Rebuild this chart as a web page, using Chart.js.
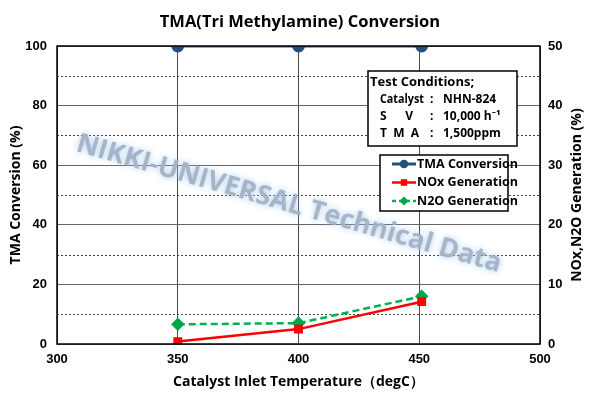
<!DOCTYPE html>
<html>
<head>
<meta charset="utf-8">
<script src="https://cdn.jsdelivr.net/npm/chart.js@4.4.0/dist/chart.umd.min.js"></script>
<style>
  html, body { margin: 0; padding: 0; background: #fff; }
  #wrap { width: 600px; height: 396px; position: relative; }
</style>
</head>
<body>
<div id="wrap"><canvas id="graf"></canvas></div>
<script>
// dados
const temperaturas = [350, 400, 451];
const tmaConversao = [100, 100, 100];
const noxGeracao = [0.4, 2.5, 7.1];
const n2oGeracao = [3.3, 3.5, 8.0];
const ticksX = [300, 350, 400, 450, 500];
const ticksEsq = [0, 20, 40, 60, 80, 100];
const ticksDir = [0, 10, 20, 30, 40, 50];

const titulo = 'TMA(Tri Methylamine) Conversion';
const condicoes = [
    ['Catalyst', ':', 'NHN-824'],
    ['S      V', ':', '10,000 h\u207B\u00B9'],
    ['T  M  A', ':', '1,500ppm']
];
const marcaDagua = 'NIKKI-UNIVERSAL Technical Data';

const FONTE = "'Open Sans', 'Noto Sans', sans-serif";
const FONTE_NUM = "'Liberation Sans', Arial, sans-serif";

function pares(xs, ys) {
    return xs.map((x, i) => ({ x: x, y: ys[i] }));
}

// desenha grade pontilhada, titulo, marca d'agua, caixas e titulo da direita
const extras = {
    id: 'extras',
    beforeDatasetsDraw(chart) {
        const c = chart.ctx;
        const a = chart.chartArea;
        const sy = chart.scales.yEsq;
        // linhas pontilhadas nos valores intermediarios
        c.save();
        c.strokeStyle = '#444';
        c.lineWidth = 1;
        c.setLineDash([2, 2]);
        sy.ticks.forEach(t => {
            if (ticksEsq.includes(t.value)) return;
            const y = Math.round(sy.getPixelForValue(t.value)) + 0.5;
            c.beginPath();
            c.moveTo(a.left, y);
            c.lineTo(a.right, y);
            c.stroke();
        });
        c.restore();

        // marca d'agua por cima da grade
        c.save();
        c.translate(289, 204);
        c.rotate(16 * Math.PI / 180);
        c.font = "bold 27px " + FONTE;
        c.textAlign = 'center';
        c.textBaseline = 'middle';
        c.shadowColor = 'rgba(150,195,240,0.95)';
        c.shadowBlur = 6;
        c.fillStyle = 'rgba(165,177,193,0.92)';
        c.fillText(marcaDagua, 0, 0);
        c.restore();
    },
    afterDraw(chart) {
        const c = chart.ctx;
        const a = chart.chartArea;
        c.save();
        // moldura
        c.strokeStyle = '#000';
        c.lineWidth = 1.5;
        c.strokeRect(a.left, a.top, a.right - a.left, a.bottom - a.top);

        // titulo
        c.fillStyle = '#000';
        c.font = "bold 16.5px " + FONTE;
        c.textAlign = 'center';
        c.textBaseline = 'middle';
        c.fillText(titulo, 300, 22);

        // titulo eixo direito (de baixo pra cima)
        c.save();
        c.translate(577, (a.top + a.bottom) / 2);
        c.rotate(-Math.PI / 2);
        c.font = "bold 14px " + FONTE;
        c.fillText('NOx,N2O Generation (%)', 0, 0);
        c.restore();

        // caixa de condicoes
        c.fillStyle = '#fff';
        c.fillRect(368, 71, 149, 75);
        c.strokeStyle = '#000';
        c.lineWidth = 1.5;
        c.strokeRect(368, 71, 149, 75);
        c.fillStyle = '#000';
        c.textAlign = 'left';
        c.font = "bold 13px " + FONTE;
        c.fillText('Test Conditions;', 370, 82);
        c.font = "bold 12px " + FONTE;
        condicoes.forEach((l, i) => {
            const y = 99.5 + i * 17;
            c.fillText(l[0], 380, y, 44);
            c.fillText(l[1], 430, y);
            c.fillText(l[2], 443, y);
        });

        // legenda
        c.fillStyle = '#fff';
        c.fillRect(380, 155, 128, 56);
        c.strokeRect(380, 155, 128, 56);
        chart.data.datasets.forEach((ds, i) => {
            const y = 164 + i * 18.5;
            c.save();
            c.strokeStyle = ds.borderColor;
            c.lineWidth = ds.borderWidth;
            c.setLineDash(ds.borderDash ? [4, 3] : []);
            c.beginPath();
            c.moveTo(392, y);
            c.lineTo(416, y);
            c.stroke();
            c.restore();
            c.fillStyle = ds.pointBackgroundColor;
            c.strokeStyle = ds.pointBackgroundColor;
            Chart.helpers.drawPoint(c, {
                pointStyle: ds.pointStyle,
                radius: 3.5,
                borderWidth: 1
            }, 404, y);
            c.fillStyle = '#000';
            c.font = "bold 12.5px " + FONTE;
            c.fillText(ds.label, 417, y);
        });
        c.restore();
    }
};

new Chart(document.getElementById('graf'), {
    type: 'line',
    data: {
        datasets: [{
            label: 'TMA Conversion',
            data: pares(temperaturas, tmaConversao),
            yAxisID: 'yEsq',
            borderColor: '#24507e',
            backgroundColor: '#24507e',
            pointBackgroundColor: '#24507e',
            pointBorderColor: '#24507e',
            borderWidth: 3,
            pointStyle: 'circle',
            pointRadius: 5,
            tension: 0
        }, {
            label: 'NOx Generation',
            data: pares(temperaturas, noxGeracao),
            yAxisID: 'yDir',
            borderColor: '#ff0000',
            backgroundColor: '#ff0000',
            pointBackgroundColor: '#ff0000',
            pointBorderColor: '#ff0000',
            borderWidth: 2.5,
            pointStyle: 'rect',
            pointRadius: 4.5,
            tension: 0
        }, {
            label: 'N2O Generation',
            data: pares(temperaturas, n2oGeracao),
            yAxisID: 'yDir',
            borderColor: '#00b050',
            backgroundColor: '#00b050',
            pointBackgroundColor: '#00a64a',
            pointBorderColor: '#00a64a',
            borderWidth: 2.5,
            borderDash: [7, 4],
            pointStyle: 'rectRot',
            pointRadius: 5,
            tension: 0
        }]
    },
    options: {
        responsive: true,
        maintainAspectRatio: false,
        animation: false,
        layout: { padding: { top: 46, left: 0, right: 0, bottom: 0 } },
        plugins: {
            legend: { display: false },
            title: { display: false },
            tooltip: { enabled: false }
        },
        scales: {
            x: {
                type: 'linear',
                min: 300, max: 500,
                afterBuildTicks: (s) => { s.ticks = ticksX.map(v => ({ value: v })); },
                afterFit: (s) => { s.height = 52; },
                grid: { color: '#4a4a4a', lineWidth: 1, drawTicks: false },
                border: { display: false },
                ticks: {
                    color: '#000', padding: 8,
                    font: { family: FONTE_NUM, size: 13, weight: 'bold' }
                },
                title: {
                    display: true,
                    text: 'Catalyst Inlet Temperature\uFF08degC\uFF09',
                    color: '#000',
                    padding: { top: 2, bottom: 6 },
                    font: { family: FONTE, size: 14, weight: 'bold' }
                }
            },
            yEsq: {
                position: 'left',
                min: 0, max: 100,
                ticks: {
                    stepSize: 10,
                    color: '#000', padding: 10,
                    font: { family: FONTE_NUM, size: 13, weight: 'bold' },
                    callback: (v) => ticksEsq.includes(v) ? v : ''
                },
                afterFit: (s) => { s.width = 57; },
                grid: {
                    drawTicks: false,
                    color: (ctx) => ticksEsq.includes(ctx.tick.value) ? '#666' : 'rgba(0,0,0,0)',
                    lineWidth: 1
                },
                border: { display: false },
                title: {
                    display: true,
                    text: 'TMA Conversion (%)',
                    color: '#000',
                    padding: { top: 8, bottom: 0 },
                    font: { family: FONTE, size: 14, weight: 'bold' }
                }
            },
            yDir: {
                position: 'right',
                min: 0, max: 50,
                afterBuildTicks: (s) => { s.ticks = ticksDir.map(v => ({ value: v })); },
                afterFit: (s) => { s.width = 60; },
                grid: { drawOnChartArea: false, drawTicks: false },
                border: { display: false },
                ticks: {
                    color: '#000', padding: 8,
                    font: { family: FONTE_NUM, size: 13, weight: 'bold' }
                }
            }
        }
    },
    plugins: [extras]
});
</script>
</body>
</html>
